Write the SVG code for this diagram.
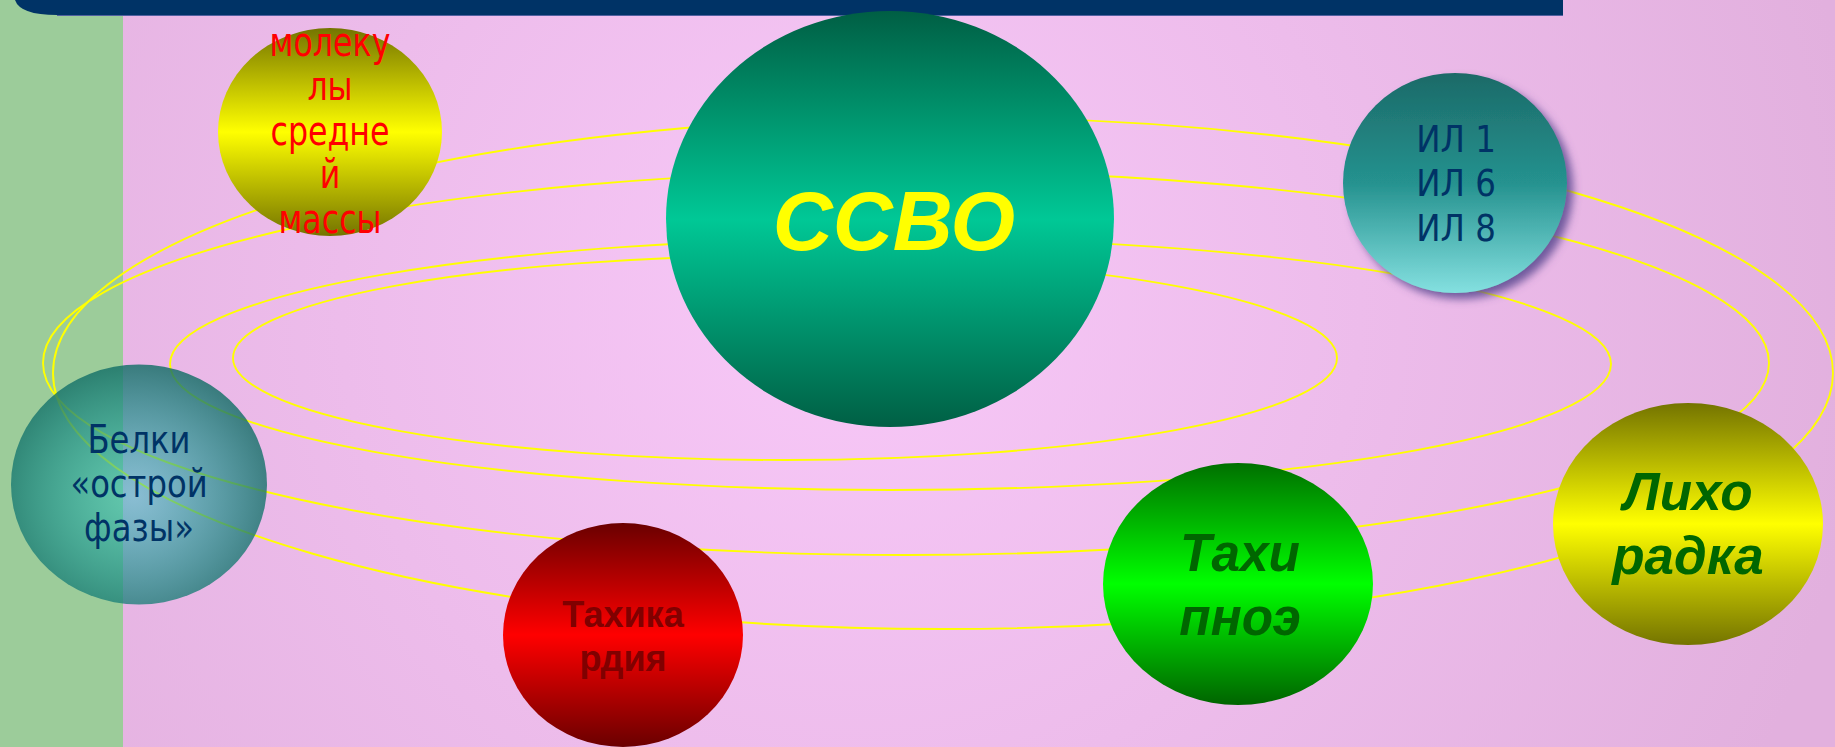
<svg xmlns="http://www.w3.org/2000/svg" width="1835" height="747" viewBox="0 0 1835 747">
<defs>
<radialGradient id="bg" gradientUnits="userSpaceOnUse" cx="850" cy="300" r="1020">
<stop offset="0" stop-color="#f8c8f8"/>
<stop offset="1" stop-color="#e2b0de"/>
</radialGradient>
<linearGradient id="gOlive" x1="0" y1="0" x2="0" y2="1">
<stop offset="0" stop-color="#747400"/>
<stop offset="0.5" stop-color="#ffff00"/>
<stop offset="1" stop-color="#747400"/>
</linearGradient>
<linearGradient id="gTeal" x1="0" y1="0" x2="0" y2="1">
<stop offset="0" stop-color="#005f44"/>
<stop offset="0.5" stop-color="#00c896"/>
<stop offset="1" stop-color="#005f44"/>
</linearGradient>
<linearGradient id="gIL" x1="0" y1="0" x2="0" y2="1">
<stop offset="0" stop-color="#1c6a68"/>
<stop offset="0.5" stop-color="#25928f"/>
<stop offset="1" stop-color="#84e0e0"/>
</linearGradient>
<radialGradient id="gBelki" cx="0.48" cy="0.55" r="0.55">
<stop offset="0" stop-color="#2cc4c0" stop-opacity="0.5"/>
<stop offset="1" stop-color="#136e66" stop-opacity="0.82"/>
</radialGradient>
<linearGradient id="gRed" x1="0" y1="0" x2="0" y2="1">
<stop offset="0" stop-color="#6a0000"/>
<stop offset="0.5" stop-color="#ff0000"/>
<stop offset="1" stop-color="#6a0000"/>
</linearGradient>
<linearGradient id="gGreen" x1="0" y1="0" x2="0" y2="1">
<stop offset="0" stop-color="#007000"/>
<stop offset="0.5" stop-color="#00ff00"/>
<stop offset="1" stop-color="#006400"/>
</linearGradient>
<filter id="shadow" x="-20%" y="-20%" width="150%" height="150%">
<feGaussianBlur in="SourceAlpha" stdDeviation="4"/>
<feOffset dx="6" dy="6" result="b"/>
<feFlood flood-color="#5a4890" flood-opacity="0.85"/>
<feComposite in2="b" operator="in"/>
<feMerge><feMergeNode/><feMergeNode in="SourceGraphic"/></feMerge>
</filter>
</defs>
<style>
.orbit{fill:none;stroke:#ffff00;stroke-width:1.9}
.tah{font-family:"DejaVu Sans Condensed","DejaVu Sans",sans-serif;text-anchor:middle}
.bi{font-family:"Liberation Sans",Arial,sans-serif;font-weight:bold;font-style:italic;text-anchor:middle}
.b{font-family:"Liberation Sans",Arial,sans-serif;font-weight:bold;text-anchor:middle}
</style>
<rect x="0" y="0" width="1835" height="747" fill="url(#bg)"/>
<rect x="0" y="0" width="123" height="747" fill="#9ccc9a"/>
<path d="M15 0 H1563 V15 H57 Q20 15 15 0 Z" fill="#003366"/>
<line x1="57" y1="15.5" x2="1563" y2="15.5" stroke="#5060a0" stroke-width="1"/>
<g id="connectors">
<ellipse class="orbit" cx="785" cy="358" rx="552" ry="102"/>
<ellipse class="orbit" cx="890.5" cy="364" rx="720.5" ry="126"/>
<ellipse class="orbit" cx="906" cy="363" rx="863" ry="192"/>
<ellipse class="orbit" cx="943" cy="373" rx="890" ry="256"/>
</g>
<g id="node-molecules">
<ellipse cx="330" cy="132" rx="112" ry="104" fill="url(#gOlive)"/>
<text class="tah" font-size="40" fill="#ff0000" transform="translate(330 0) scale(0.88 1)"><tspan x="0" y="56">молеку</tspan><tspan x="0" y="100">лы</tspan><tspan x="0" y="145">средне</tspan><tspan x="0" y="188">й</tspan><tspan x="0" y="233">массы</tspan></text>
</g>
<g id="node-ssvo">
<ellipse cx="890" cy="219" rx="224" ry="208" fill="url(#gTeal)"/>
<text class="bi" x="894" y="250" font-size="83" fill="#ffff00">ССВО</text>
</g>
<g id="node-il">
<ellipse cx="1455" cy="183" rx="112" ry="110" fill="url(#gIL)" filter="url(#shadow)"/>
<text class="tah" font-size="38" fill="#003366" transform="translate(1456 0) scale(0.95 1)"><tspan x="0" y="152">ИЛ 1</tspan><tspan x="0" y="196">ИЛ 6</tspan><tspan x="0" y="241">ИЛ 8</tspan></text>
</g>
<g id="node-belki">
<ellipse cx="139" cy="484.5" rx="128" ry="120" fill="url(#gBelki)"/>
<text class="tah" font-size="39" fill="#003366" transform="translate(139 0) scale(0.92 1)"><tspan x="0" y="453">Белки</tspan><tspan x="0" y="497">«острой</tspan><tspan x="0" y="541">фазы»</tspan></text>
</g>
<g id="node-tachycardia">
<ellipse cx="623" cy="635" rx="120" ry="112" fill="url(#gRed)"/>
<text class="b" font-size="36" fill="#800000"><tspan x="623" y="627">Тахика</tspan><tspan x="623" y="671">рдия</tspan></text>
</g>
<g id="node-tachypnea">
<ellipse cx="1238" cy="584" rx="135" ry="121" fill="url(#gGreen)"/>
<text class="bi" font-size="53" fill="#006600" transform="translate(1240 0) scale(0.97 1)"><tspan x="0" y="571">Тахи</tspan><tspan x="0" y="635">пноэ</tspan></text>
</g>
<g id="node-fever">
<ellipse cx="1688" cy="524" rx="135" ry="121" fill="url(#gOlive)"/>
<text class="bi" font-size="53" fill="#006600"><tspan x="1688" y="510">Лихо</tspan><tspan x="1688" y="574">радка</tspan></text>
</g>
</svg>
